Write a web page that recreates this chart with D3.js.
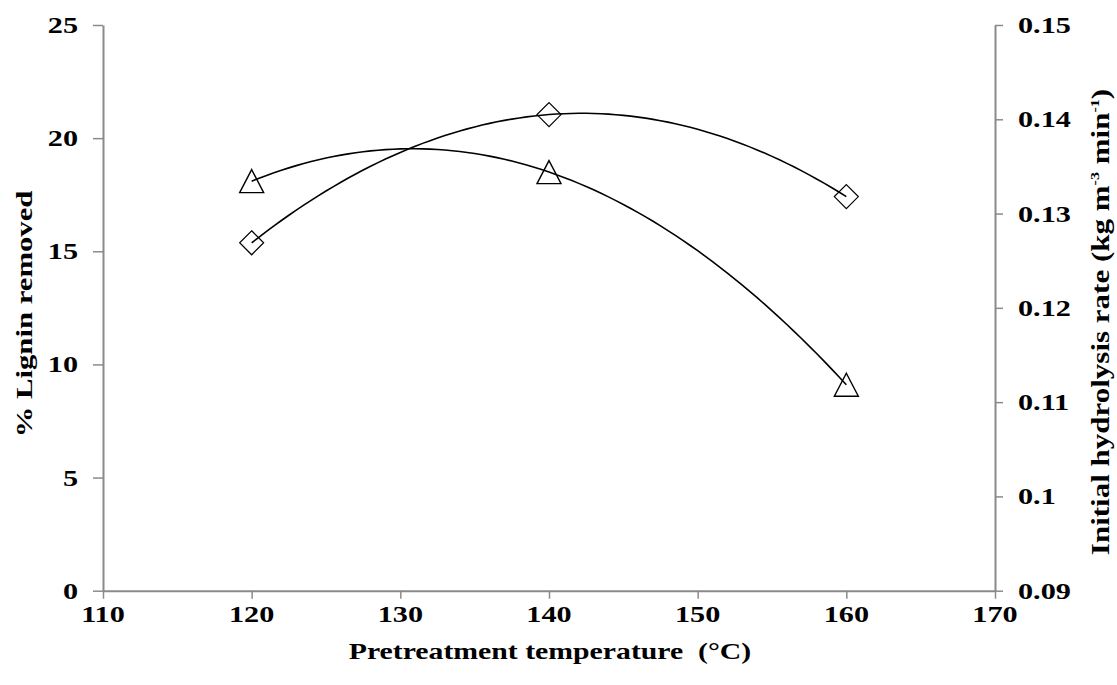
<!DOCTYPE html>
<html>
<head>
<meta charset="utf-8">
<script src="https://cdn.jsdelivr.net/npm/d3@7"></script>
<style>
  html, body { margin: 0; padding: 0; background: #fff; }
  svg { display: block; }
  text { font-family: "Liberation Serif", "Times New Roman", serif; font-weight: bold; fill: #000; }
</style>
</head>
<body>
<svg id="chart" width="1117" height="685"></svg>
<script>
// ---- data ----
const temperatures = [120, 140, 160];              // Pretreatment temperature (°C)
const ligninRemoved = [18.1, 18.5, 9.1];           // % Lignin removed (triangles, left axis)
const hydrolysisRate = [0.1269, 0.1405, 0.1318];   // Initial hydrolysis rate (diamonds, right axis)
const xTicks = [110, 120, 130, 140, 150, 160, 170];
const yLeftTicks = [0, 5, 10, 15, 20, 25];
const yRightTicks = [0.09, 0.10, 0.11, 0.12, 0.13, 0.14, 0.15];
const yRightLabels = ["0.09", "0.1", "0.11", "0.12", "0.13", "0.14", "0.15"];
const xTitle = "Pretreatment temperature \u00A0(°C)";
const yLeftTitle = "% Lignin removed";

// ---- layout ----
const svg = d3.select("#chart");
const L = 103, R = 995, T = 25, B = 590.7;
const SX = 1.24;   // horizontal text stretch as in the reference
const SXT = 1.26;  // stretch for tick labels
const axisColor = "#8a8a8a";

const x = d3.scaleLinear().domain([110, 170]).range([L, R]);
const yL = d3.scaleLinear().domain([0, 25]).range([B, T]);
const yR = d3.scaleLinear().domain([0.09, 0.15]).range([B, T]);

function styleAxis(g) {
  g.selectAll("path").attr("stroke", axisColor).attr("stroke-width", 2);
  g.selectAll("line").attr("stroke", axisColor).attr("stroke-width", 1.5);
  g.selectAll("text").remove();
}

svg.append("g").attr("transform", `translate(0,${B})`)
  .call(d3.axisBottom(x).tickValues(xTicks).tickSize(8).tickSizeOuter(0).tickFormat(""))
  .call(styleAxis);
svg.append("g").attr("transform", `translate(${L},0)`)
  .call(d3.axisLeft(yL).tickValues(yLeftTicks).tickSize(10).tickSizeOuter(0).tickFormat(""))
  .call(styleAxis);
svg.append("g").attr("transform", `translate(${R},0)`)
  .call(d3.axisRight(yR).tickValues(yRightTicks).tickSize(8).tickSizeOuter(0).tickFormat(""))
  .call(styleAxis);

// tick labels
const tickFont = 24;
svg.append("g").selectAll("text").data(xTicks).join("text")
  .attr("transform", d => `translate(${x(d)},${B + 31}) scale(${SXT},1)`)
  .attr("text-anchor", "middle").attr("font-size", tickFont).text(d => d);
svg.append("g").selectAll("text").data(yLeftTicks).join("text")
  .attr("transform", d => `translate(${L - 25},${yL(d) + 8}) scale(${SXT},1)`)
  .attr("text-anchor", "end").attr("font-size", tickFont).text(d => d);
svg.append("g").selectAll("text").data(yRightTicks).join("text")
  .attr("transform", d => `translate(${R + 23},${yR(d) + 8}) scale(${SXT},1)`)
  .attr("text-anchor", "start").attr("font-size", tickFont).text((d, i) => yRightLabels[i]);

// axis titles
svg.append("text")
  .attr("transform", `translate(${(L + R) / 2 + 1},${B + 68}) scale(${SX},1)`)
  .attr("text-anchor", "middle").attr("font-size", 24).text(xTitle);
svg.append("text")
  .attr("transform", `translate(${32},${314}) rotate(-90) scale(${SX + 0.04},1)`)
  .attr("text-anchor", "middle").attr("font-size", 24).text(yLeftTitle);
const rt = svg.append("text")
  .attr("transform", `translate(${1109},${322}) rotate(-90) scale(${SX},1)`)
  .attr("text-anchor", "middle").attr("font-size", 25);
rt.append("tspan").text("Initial hydrolysis rate (kg m");
rt.append("tspan").attr("font-size", 13).attr("dy", -10).text("-3");
rt.append("tspan").attr("dy", 10).text(" min");
rt.append("tspan").attr("font-size", 13).attr("dy", -10).text("-1");
rt.append("tspan").attr("dy", 10).text(")");

// ---- 2nd order polynomial trendlines through the points ----
function quadFit(xs, ys) {
  // Lagrange quadratic through three points
  return t => {
    let s = 0;
    for (let i = 0; i < 3; i++) {
      let p = ys[i];
      for (let j = 0; j < 3; j++) if (j !== i) p *= (t - xs[j]) / (xs[i] - xs[j]);
      s += p;
    }
    return s;
  };
}
const xs = d3.range(temperatures[0], temperatures[2] + 0.001, 0.5);
const fL = quadFit(temperatures, ligninRemoved);
const fR = quadFit(temperatures, hydrolysisRate);

svg.append("path")
  .attr("d", d3.line().x(t => x(t)).y(t => yL(fL(t)))(xs))
  .attr("fill", "none").attr("stroke", "#000").attr("stroke-width", 1.6);
svg.append("path")
  .attr("d", d3.line().x(t => x(t)).y(t => yR(fR(t)))(xs))
  .attr("fill", "none").attr("stroke", "#000").attr("stroke-width", 1.6);

// ---- markers ----
const triW = 24, triH = 23;
svg.append("g").selectAll("path").data(temperatures).join("path")
  .attr("transform", (d, i) => `translate(${x(d)},${yL(ligninRemoved[i])})`)
  .attr("d", `M0,${-triH / 2}L${triW / 2},${triH / 2}L${-triW / 2},${triH / 2}Z`)
  .attr("fill", "none").attr("stroke", "#000").attr("stroke-width", 1.4);

const dia = 12;
svg.append("g").selectAll("path").data(temperatures).join("path")
  .attr("transform", (d, i) => `translate(${x(d)},${yR(hydrolysisRate[i])})`)
  .attr("d", `M0,${-dia}L${dia},0L0,${dia}L${-dia},0Z`)
  .attr("fill", "none").attr("stroke", "#000").attr("stroke-width", 1.2);
</script>
</body>
</html>
